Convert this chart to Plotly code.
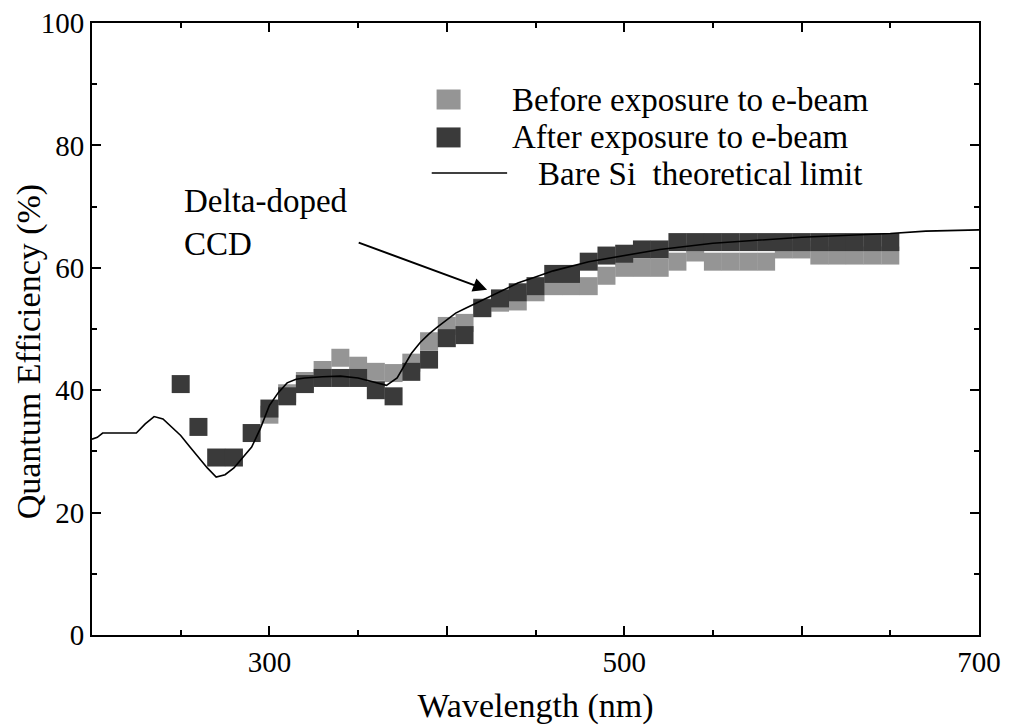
import plotly.graph_objects as go

# wavelengths (nm) and quantum efficiency (%)
wl_before = [300, 310, 320, 330, 340, 350, 360, 370, 380, 390, 400, 410, 420, 430,
             440, 450, 460, 470, 480, 490, 500, 510, 520, 530, 540, 550, 560, 570,
             580, 590, 600, 610, 620, 630, 640, 650]
qe_before = [36, 39.5, 41.5, 43.3, 45.3, 44, 43, 42.8, 44.5, 48, 50.5, 51, 53.5, 54.3,
             54.5, 56, 57, 57, 57, 58.7, 60, 60, 60, 61, 62.5, 61, 61, 61,
             61, 63, 63, 62, 62, 62, 62, 62]

wl_after = [250, 260, 270, 280, 290, 300, 310, 320, 330, 340, 350, 360, 370, 380,
            390, 400, 410, 420, 430, 440, 450, 460, 470, 480, 490, 500, 510, 520,
            530, 540, 550, 560, 570, 580, 590, 600, 610, 620, 630, 640, 650]
qe_after = [41, 34, 29, 29, 33, 37, 39, 41, 42, 42, 42, 40, 39, 43,
            45, 48.5, 49, 53.4, 55, 56, 57, 59, 59, 61, 62, 62.3, 63, 63,
            64.2, 64.2, 64.2, 64.2, 64.2, 64.2, 64.2, 64.2, 64.2, 64.2, 64.2, 64.2, 64.2]

wl_theory = [200, 203, 206, 215, 225, 230, 235, 240, 245, 250, 255, 260, 265, 270,
             275, 280, 285, 290, 295, 300, 305, 310, 315, 320, 330, 340, 350, 360,
             366, 372, 376, 380, 385, 390, 395, 400, 405, 410, 415, 420, 425, 430,
             435, 440, 450, 460, 480, 500, 520, 550, 600, 650, 670, 700]
qe_theory = [32, 32.3, 33, 33, 33, 34.5, 35.7, 35.3, 34, 32.6, 30.8, 29, 27.3, 25.8,
             26.2, 27.3, 29, 30.7, 33.8, 37.5, 39.6, 41.2, 41.8, 42, 42.2, 42.3, 42, 41.2,
             40.8, 42, 44, 46, 47.8, 49.2, 50.4, 51.5, 52.6, 53.3, 54, 54.8, 55.5, 56.2,
             56.9, 57.5, 58.5, 59.5, 61, 62, 63, 64, 65, 65.6, 66, 66.2]

x_tick_vals = [200, 300, 400, 500, 600, 700]
x_tick_text = ['', '300', '', '500', '', '700']
y_tick_vals = [0, 20, 40, 60, 80, 100]

FONT = 'Liberation Serif'
C_BEFORE = '#959595'
C_AFTER = '#3a3a3a'

fig = go.Figure()

fig.add_trace(go.Scatter(
    x=wl_before, y=qe_before, mode='markers', name='Before exposure to e-beam',
    marker=dict(symbol='square', size=18, color=C_BEFORE, line=dict(width=0)),
))
fig.add_trace(go.Scatter(
    x=wl_after, y=qe_after, mode='markers', name='After exposure to e-beam',
    marker=dict(symbol='square', size=18, color=C_AFTER, line=dict(width=0)),
))
fig.add_trace(go.Scatter(
    x=wl_theory, y=qe_theory, mode='lines', name='Bare Si  theoretical limit',
    line=dict(color='black', width=1.6),
))

# hand-made legend
legend_rows = [
    (87.5, C_BEFORE, 'Before exposure to e-beam'),
    (81.3, C_AFTER, 'After exposure to e-beam'),
]
for yv, col, txt in legend_rows:
    fig.add_shape(type='rect', xref='x', yref='y', xsizemode='pixel', ysizemode='pixel',
                  xanchor=401, yanchor=yv, x0=-12, x1=12, y0=-10, y1=10,
                  fillcolor=col, line=dict(width=0))
    fig.add_annotation(x=435.5, y=yv, text=txt, showarrow=False, xanchor='left',
                       font=dict(family=FONT, size=33, color='black'))
fig.add_shape(type='line', xref='x', yref='y', x0=391.5, x1=434, y0=75.5, y1=75.5,
              line=dict(color='black', width=1.6))
fig.add_annotation(x=450, y=75.4, text='Bare Si  theoretical limit', showarrow=False,
                   xanchor='left', font=dict(family=FONT, size=33, color='black'))

# Delta-doped CCD label with arrow
fig.add_annotation(x=251, y=67.4, text='Delta-doped<br>CCD', showarrow=False,
                   xanchor='left', yanchor='middle', align='left',
                   font=dict(family=FONT, size=33, color='black'))
fig.add_annotation(x=422.7, y=56.4, ax=349.5, ay=64.2, axref='x', ayref='y',
                   text='', showarrow=True, arrowhead=2, arrowsize=1.4,
                   arrowwidth=2, arrowcolor='black')

# y-axis title
fig.add_annotation(xref='paper', yref='paper', x=-0.071, y=0.462,
                   text='Quantum Efficiency (%)', textangle=-90, showarrow=False,
                   xanchor='center', yanchor='middle',
                   font=dict(family=FONT, size=34, color='black'))

axis_common = dict(
    showgrid=False, zeroline=False, showline=True, linecolor='black', linewidth=2,
    mirror='ticks', ticks='inside', ticklen=9, tickwidth=1.5, tickcolor='black',
    tickfont=dict(family=FONT, size=29, color='black'), automargin=False,
    ticklabeloverflow='allow',
)

fig.update_layout(
    width=1001, height=719,
    margin=dict(l=84, r=30, t=15, b=92),
    paper_bgcolor='white', plot_bgcolor='white',
    showlegend=False,
    xaxis=dict(range=[200, 700], tickvals=x_tick_vals, ticktext=x_tick_text,
               minor=dict(dtick=50, tick0=200, ticks='inside', ticklen=5, tickcolor='black'),
               title=dict(text='Wavelength (nm)', standoff=16,
                          font=dict(family=FONT, size=34, color='black')),
               **axis_common),
    yaxis=dict(range=[0, 100], tickvals=y_tick_vals,
               minor=dict(dtick=10, tick0=0, ticks='inside', ticklen=5, tickcolor='black'),
               **axis_common),
)

fig.write_html('out.html')
